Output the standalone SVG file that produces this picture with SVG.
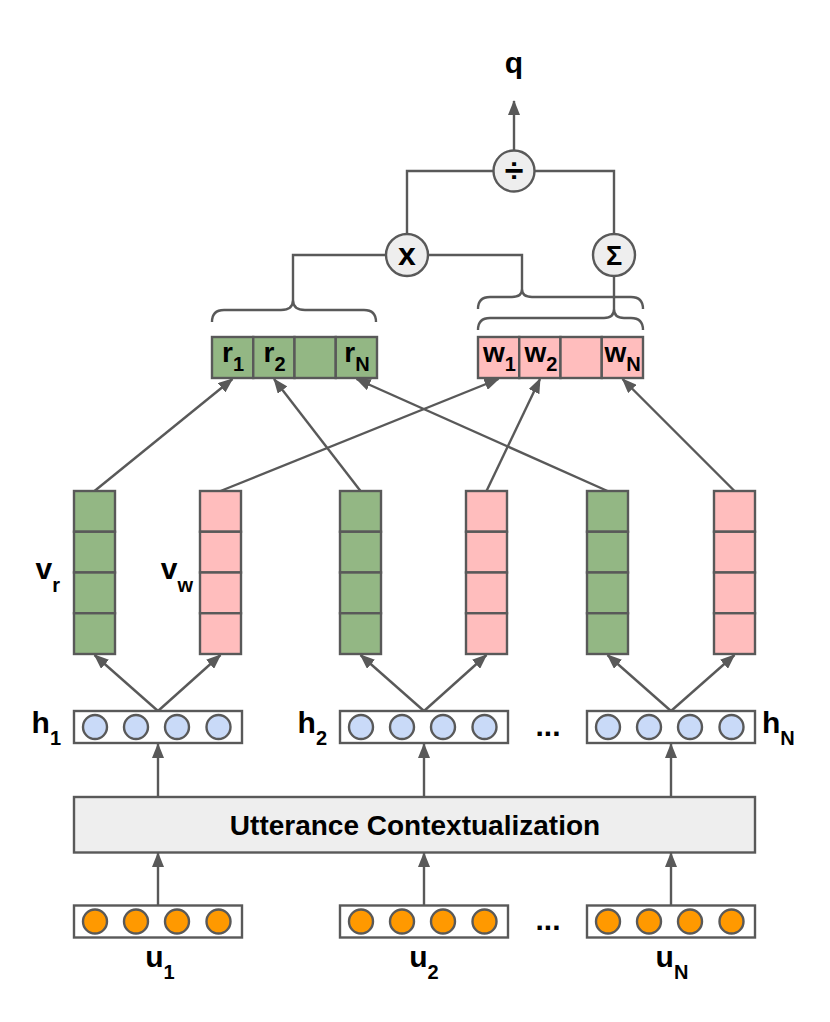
<svg xmlns="http://www.w3.org/2000/svg" width="830" height="1022" viewBox="0 0 830 1022">
<style>
.s{stroke:#595959;stroke-width:2.4;fill:none}
.a{stroke:#595959;stroke-width:2.4;fill:none;marker-end:url(#ah)}
.g{fill:#93b784;stroke:#595959;stroke-width:2.4}
.p{fill:#ffbdbd;stroke:#595959;stroke-width:2.4}
.box{fill:#ffffff;stroke:#595959;stroke-width:2.4}
.bc{fill:#c9daf8;stroke:#595959;stroke-width:2.4}
.oc{fill:#ff9900;stroke:#595959;stroke-width:2.4}
.op{fill:#eeeeee;stroke:#595959;stroke-width:2.4}
.t{font-family:"Liberation Sans",Arial,sans-serif;font-weight:bold;font-size:30px;fill:#000}
.ti{font-family:"Liberation Sans",Arial,sans-serif;font-weight:bold;font-size:28px;fill:#000}
.sub{font-size:20px}
</style>
<defs>
<marker id="ah" markerWidth="15" markerHeight="12" refX="14" refY="6" orient="auto" markerUnits="userSpaceOnUse"><path d="M0,0 L15,6 L0,12 z" fill="#595959"/></marker>
</defs>
<rect width="830" height="1022" fill="#ffffff"/>

<g id="connectors">
<line class="a" x1="514" y1="151" x2="514" y2="101"/>
<polyline class="s" points="407,234 407,171 614,171 614,234"/>
<polyline class="s" points="293,300 293,255 522,255 522,289"/>
<line class="s" x1="614" y1="276" x2="614" y2="309"/>
<path class="s" d="M212,322 Q212,310 224,310 L281,310 Q293,310 293,300 Q293,310 305,310 L364,310 Q376,310 376,322"/>
<path class="s" d="M478,309 Q478,297 490,297 L512,297 Q522,297 522,289 Q522,297 532,297 L631,297 Q643,297 643,309"/>
<path class="s" d="M478,330 Q478,318 490,318 L604,318 Q614,318 614,309 Q614,318 624,318 L631,318 Q643,318 643,330"/>
<line class="a" x1="94.5" y1="491" x2="232.5" y2="379"/>
<line class="a" x1="220.5" y1="491" x2="498.5" y2="379"/>
<line class="a" x1="360.5" y1="491" x2="274" y2="379"/>
<line class="a" x1="486.5" y1="491" x2="540" y2="379"/>
<line class="a" x1="607.5" y1="491" x2="356.5" y2="379"/>
<line class="a" x1="734.5" y1="491" x2="622.5" y2="379"/>
<line class="a" x1="158" y1="711" x2="94.5" y2="655"/>
<line class="a" x1="158" y1="711" x2="220.5" y2="655"/>
<line class="a" x1="424" y1="711" x2="360.5" y2="655"/>
<line class="a" x1="424" y1="711" x2="486.5" y2="655"/>
<line class="a" x1="671" y1="711" x2="607.5" y2="655"/>
<line class="a" x1="671" y1="711" x2="734.5" y2="655"/>
<line class="a" x1="158" y1="797" x2="158" y2="744"/>
<line class="a" x1="424" y1="797" x2="424" y2="744"/>
<line class="a" x1="671" y1="797" x2="671" y2="744"/>
<line class="a" x1="158" y1="905" x2="158" y2="853"/>
<line class="a" x1="424" y1="905" x2="424" y2="853"/>
<line class="a" x1="671" y1="905" x2="671" y2="853"/>
</g>

<g id="q"><text class="t" x="514" y="73" text-anchor="middle">q</text></g>
<g id="div"><circle class="op" cx="514" cy="171" r="20.5"/><text class="t" x="514" y="182" text-anchor="middle" style="font-size:34px">÷</text></g>
<g id="mul"><circle class="op" cx="407" cy="255" r="21"/><text class="t" x="407" y="265" text-anchor="middle" style="font-size:32px">x</text></g>
<g id="sum"><circle class="op" cx="614" cy="255" r="21"/><text class="t" x="614" y="265" text-anchor="middle" style="font-size:27px">Σ</text></g>

<g id="r-vec">
<rect class="g" x="212" y="337" width="41.25" height="41"/>
<rect class="g" x="253.25" y="337" width="41.25" height="41"/>
<rect class="g" x="294.5" y="337" width="41.25" height="41"/>
<rect class="g" x="335.75" y="337" width="41.25" height="41"/>
<text class="ti" x="233" y="362" text-anchor="middle">r<tspan class="sub" dy="9">1</tspan></text>
<text class="ti" x="274.5" y="362" text-anchor="middle">r<tspan class="sub" dy="9">2</tspan></text>
<text class="ti" x="357" y="362" text-anchor="middle">r<tspan class="sub" dy="9">N</tspan></text>
</g>
<g id="w-vec">
<rect class="p" x="478" y="337" width="41.25" height="41"/>
<rect class="p" x="519.25" y="337" width="41.25" height="41"/>
<rect class="p" x="560.5" y="337" width="41.25" height="41"/>
<rect class="p" x="601.75" y="337" width="41.25" height="41"/>
<text class="ti" x="499.5" y="362" text-anchor="middle">w<tspan class="sub" dy="9">1</tspan></text>
<text class="ti" x="541" y="362" text-anchor="middle">w<tspan class="sub" dy="9">2</tspan></text>
<text class="ti" x="622.5" y="362" text-anchor="middle">w<tspan class="sub" dy="9">N</tspan></text>
</g>

<g id="vr1"><rect class="g" x="74" y="491" width="41" height="40.75"/><rect class="g" x="74" y="531.75" width="41" height="40.75"/><rect class="g" x="74" y="572.5" width="41" height="40.75"/><rect class="g" x="74" y="613.25" width="41" height="40.75"/></g>
<g id="vw1"><rect class="p" x="200" y="491" width="41" height="40.75"/><rect class="p" x="200" y="531.75" width="41" height="40.75"/><rect class="p" x="200" y="572.5" width="41" height="40.75"/><rect class="p" x="200" y="613.25" width="41" height="40.75"/></g>
<g id="vr2"><rect class="g" x="340" y="491" width="41" height="40.75"/><rect class="g" x="340" y="531.75" width="41" height="40.75"/><rect class="g" x="340" y="572.5" width="41" height="40.75"/><rect class="g" x="340" y="613.25" width="41" height="40.75"/></g>
<g id="vw2"><rect class="p" x="466" y="491" width="41" height="40.75"/><rect class="p" x="466" y="531.75" width="41" height="40.75"/><rect class="p" x="466" y="572.5" width="41" height="40.75"/><rect class="p" x="466" y="613.25" width="41" height="40.75"/></g>
<g id="vr3"><rect class="g" x="587" y="491" width="41" height="40.75"/><rect class="g" x="587" y="531.75" width="41" height="40.75"/><rect class="g" x="587" y="572.5" width="41" height="40.75"/><rect class="g" x="587" y="613.25" width="41" height="40.75"/></g>
<g id="vw3"><rect class="p" x="714" y="491" width="41" height="40.75"/><rect class="p" x="714" y="531.75" width="41" height="40.75"/><rect class="p" x="714" y="572.5" width="41" height="40.75"/><rect class="p" x="714" y="613.25" width="41" height="40.75"/></g>
<g id="vr-label"><text class="t" x="60" y="579" text-anchor="end">v<tspan class="sub" dy="13">r</tspan></text></g>
<g id="vw-label"><text class="t" x="193" y="579" text-anchor="end">v<tspan class="sub" dy="13">w</tspan></text></g>

<g id="h1"><rect class="box" x="74" y="711" width="168" height="32"/><circle class="bc" cx="95" cy="727" r="12"/><circle class="bc" cx="136" cy="727" r="12"/><circle class="bc" cx="177" cy="727" r="12"/><circle class="bc" cx="218.5" cy="727" r="12"/><text class="t" x="61" y="733" text-anchor="end">h<tspan class="sub" dy="12">1</tspan></text></g>
<g id="h2"><rect class="box" x="340" y="711" width="168" height="32"/><circle class="bc" cx="361" cy="727" r="12"/><circle class="bc" cx="402" cy="727" r="12"/><circle class="bc" cx="443" cy="727" r="12"/><circle class="bc" cx="484.5" cy="727" r="12"/><text class="t" x="327" y="733" text-anchor="end">h<tspan class="sub" dy="12">2</tspan></text></g>
<g id="hN"><rect class="box" x="587" y="711" width="168" height="32"/><circle class="bc" cx="608" cy="727" r="12"/><circle class="bc" cx="649" cy="727" r="12"/><circle class="bc" cx="690" cy="727" r="12"/><circle class="bc" cx="731.5" cy="727" r="12"/><text class="t" x="762" y="733">h<tspan class="sub" dy="12">N</tspan></text></g>
<g id="hdots"><text class="t" x="548" y="736" text-anchor="middle">...</text></g>

<g id="utterance"><rect x="74" y="797" width="681" height="55.5" fill="#eeeeee" stroke="#595959" stroke-width="2.4"/><text class="ti" x="415" y="835" text-anchor="middle">Utterance Contextualization</text></g>

<g id="u1"><rect class="box" x="74" y="905.5" width="168" height="32"/><circle class="oc" cx="95" cy="921.5" r="12"/><circle class="oc" cx="136" cy="921.5" r="12"/><circle class="oc" cx="177" cy="921.5" r="12"/><circle class="oc" cx="218.5" cy="921.5" r="12"/><text class="t" x="160" y="967" text-anchor="middle">u<tspan class="sub" dy="12">1</tspan></text></g>
<g id="u2"><rect class="box" x="340" y="905.5" width="168" height="32"/><circle class="oc" cx="361" cy="921.5" r="12"/><circle class="oc" cx="402" cy="921.5" r="12"/><circle class="oc" cx="443" cy="921.5" r="12"/><circle class="oc" cx="484.5" cy="921.5" r="12"/><text class="t" x="424" y="967" text-anchor="middle">u<tspan class="sub" dy="12">2</tspan></text></g>
<g id="uN"><rect class="box" x="587" y="905.5" width="168" height="32"/><circle class="oc" cx="608" cy="921.5" r="12"/><circle class="oc" cx="649" cy="921.5" r="12"/><circle class="oc" cx="690" cy="921.5" r="12"/><circle class="oc" cx="731.5" cy="921.5" r="12"/><text class="t" x="672" y="967" text-anchor="middle">u<tspan class="sub" dy="12">N</tspan></text></g>
<g id="udots"><text class="t" x="548" y="930" text-anchor="middle">...</text></g>
</svg>
